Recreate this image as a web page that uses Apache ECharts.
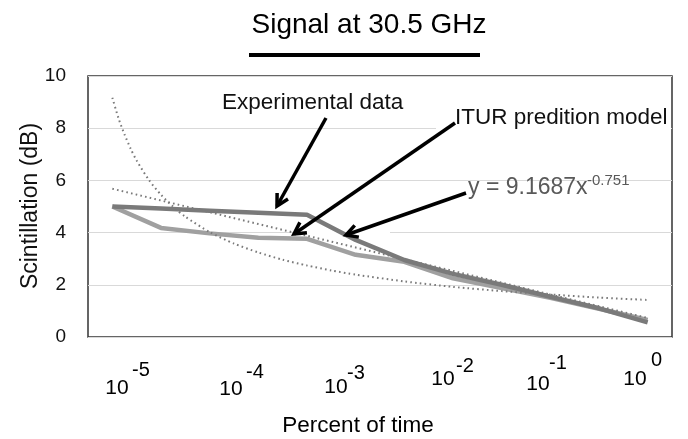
<!DOCTYPE html>
<html>
<head>
<meta charset="utf-8">
<script src="https://cdn.jsdelivr.net/npm/echarts@6/dist/echarts.min.js"></script>
<style>
html,body{margin:0;padding:0;background:#fff;}
#c{width:688px;height:439px;}
</style>
</head>
<body>
<div id="c"></div>
<script>
// ---- data ----
const categories = ['1','2','3','4','5','6','7','8','9','10','11','12'];
const experimental = [5.0, 4.92, 4.84, 4.76, 4.68, 3.72, 2.95, 2.42, 2.0, 1.54, 1.1, 0.56];
const itur = [5.0, 4.18, 3.97, 3.8, 3.76, 3.15, 2.88, 2.25, 1.88, 1.5, 1.08, 0.65];
// dotted trend lines (positions along the category scale)
const powerTrendX = [0, 0.125, 0.25, 0.375, 0.5, 0.75, 1, 1.25, 1.5, 2, 2.5, 3, 3.5, 4, 4.5, 5, 6, 7, 8, 9, 10, 11];
const powerTrendY = [9.17, 8.39, 7.76, 7.22, 6.76, 6.02, 5.45, 4.99, 4.61, 4.02, 3.58, 3.24, 2.96, 2.74, 2.55, 2.39, 2.13, 1.92, 1.76, 1.63, 1.51, 1.42];
const linearTrendX = [0, 11];
const linearTrendY = [5.68, 0.73];
const tickBase = ['10','10','10','10','10','10'];
const tickExp = ['-5','-4','-3','-2','-1','0'];
const yTicks = [0, 2, 4, 6, 8, 10];

// ---- layout (pixels) ----
const FONT = '"Liberation Sans", Arial, sans-serif';
const tickBaseXY = [[117,388],[231,389],[336,387],[443,379],[538,384],[635,379]];
const tickExpXY = [[132,370],[246,372],[347,373],[456,366],[549,363],[651,360]];

const chart = echarts.init(document.getElementById('c'), null, {renderer:'canvas'});

function arrow(x1, y1, x2, y2) {
  const th = Math.atan2(y2 - y1, x2 - x1);
  const L = 13, a = 0.5;
  const p1 = [x2 - L*Math.cos(th - a), y2 - L*Math.sin(th - a)];
  const p2 = [x2 - L*Math.cos(th + a), y2 - L*Math.sin(th + a)];
  return [
    {type:'line', z:100, shape:{x1:x1,y1:y1,x2:x2,y2:y2}, style:{stroke:'#000', lineWidth:3.5}},
    {type:'polyline', z:100, shape:{points:[p1,[x2,y2],p2]}, style:{stroke:'#000', lineWidth:3.5, fill:null}}
  ];
}

const graphics = [];
// white boxes behind annotation text (hide gridline parts)
graphics.push({type:'rect', z:1, shape:{x:436,y:124,width:235,height:8}, style:{fill:'#fff'}});
graphics.push({type:'rect', z:1, shape:{x:296,y:229,width:94,height:6}, style:{fill:'#fff'}});
// title underline
graphics.push({type:'line', z:100, shape:{x1:249,y1:55,x2:480,y2:55}, style:{stroke:'#000', lineWidth:4}});
// x tick labels
for (let i = 0; i < tickBase.length; i++) {
  graphics.push({type:'text', z:100, x:tickBaseXY[i][0], y:tickBaseXY[i][1],
    style:{text:tickBase[i], font:'21px ' + FONT, fill:'#000', textAlign:'center', textVerticalAlign:'middle'}});
  graphics.push({type:'text', z:100, x:tickExpXY[i][0], y:tickExpXY[i][1],
    style:{text:tickExp[i], font:'20px ' + FONT, fill:'#000', textAlign:'left', textVerticalAlign:'middle'}});
}
// axis titles
graphics.push({type:'text', z:100, x:358, y:426,
  style:{text:'Percent of time', font:'22.5px ' + FONT, fill:'#000', textAlign:'center', textVerticalAlign:'middle'}});
graphics.push({type:'text', z:100, x:31, y:206, rotation:Math.PI/2,
  style:{text:'Scintillation (dB)', font:'23px ' + FONT, fill:'#111', textAlign:'center', textVerticalAlign:'middle'}});
// annotations
graphics.push({type:'text', z:100, x:222, y:103,
  style:{text:'Experimental data', font:'22.5px ' + FONT, fill:'#111', textAlign:'left', textVerticalAlign:'middle'}});
graphics.push({type:'text', z:100, x:455, y:118,
  style:{text:'ITUR predition model', font:'22.5px ' + FONT, fill:'#111', textAlign:'left', textVerticalAlign:'middle'}});
graphics.push({type:'text', z:100, x:468, y:188,
  style:{text:'y = 9.1687x', font:'23px ' + FONT, fill:'#595959', textAlign:'left', textVerticalAlign:'middle'}});
graphics.push({type:'text', z:100, x:587, y:181,
  style:{text:'-0.751', font:'15px ' + FONT, fill:'#595959', textAlign:'left', textVerticalAlign:'middle'}});
graphics.push(...arrow(326,118,277,206));
graphics.push(...arrow(455,123,294,234));
graphics.push(...arrow(466,193,346,235));

const option = {
  animation:false,
  backgroundColor:'#fff',
  title:{
    text:'Signal at 30.5 GHz', left:364, top:6, textAlign:'center',
    textStyle:{fontFamily:FONT, fontSize:28, fontWeight:'normal', color:'#000'}
  },
  grid:{left:88, right:16, top:76, bottom:102, show:true, borderColor:'#333', borderWidth:1.5, backgroundColor:'transparent'},
  xAxis:[
    {type:'category', data:categories, boundaryGap:true,
     axisLine:{show:false}, axisTick:{show:false}, axisLabel:{show:false}, splitLine:{show:false}},
    {type:'value', min:-0.5, max:11.5, show:false}
  ],
  yAxis:{
    type:'value', min:yTicks[0], max:yTicks[yTicks.length-1], interval:2,
    axisLine:{show:false}, axisTick:{show:false},
    axisLabel:{fontFamily:FONT, fontSize:19, color:'#111', margin:22},
    splitLine:{lineStyle:{color:'#d9d9d9', width:1}}
  },
  series:[
    {name:'ITUR predition model', type:'line', xAxisIndex:0, data:itur, symbol:'none', z:2,
     lineStyle:{color:'#a0a0a0', width:4.5}},
    {name:'Experimental data', type:'line', xAxisIndex:0, data:experimental, symbol:'none', z:3,
     lineStyle:{color:'#7a7a7a', width:4.5}},
    {name:'Power trend', type:'line', xAxisIndex:1, symbol:'none', z:4, smooth:0.25,
     data:powerTrendX.map((x,i)=>[x, powerTrendY[i]]),
     lineStyle:{color:'#7a7a7a', width:2, type:[1.6,3.2]}},
    {name:'Linear trend', type:'line', xAxisIndex:1, symbol:'none', z:4,
     data:linearTrendX.map((x,i)=>[x, linearTrendY[i]]),
     lineStyle:{color:'#7a7a7a', width:2, type:[1.6,3.2]}}
  ],
  graphic:{elements:graphics}
};
chart.setOption(option);
</script>
</body>
</html>
